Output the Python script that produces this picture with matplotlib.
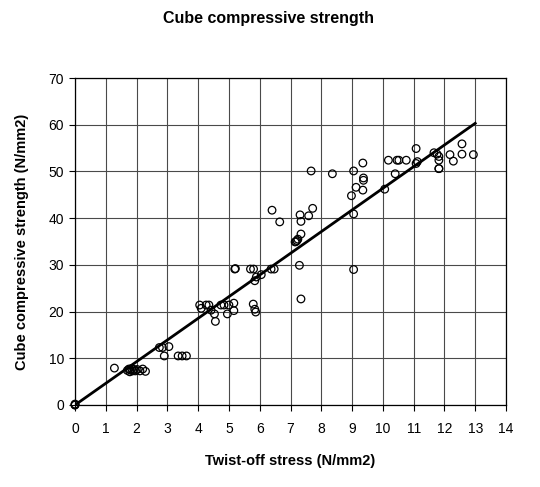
"""Cube compressive strength vs twist-off stress scatter with fitted line."""

import matplotlib

matplotlib.use("Agg")
import matplotlib.pyplot as plt

FONT = ["Liberation Sans", "DejaVu Sans"]
INK = "#000000"
GRID = "#4a4a4a"

# twist-off stress (N/mm2)
twist = [
    0.0, 0.0, 0.0,
    1.28, 1.70, 1.75, 1.78, 1.80, 1.84, 1.87, 1.92, 1.96, 2.02, 2.11, 2.20, 2.29,
    2.74, 2.84, 3.05, 2.90, 3.35, 3.48, 3.62,
    4.05, 4.10, 4.26, 4.35, 4.42, 4.53, 4.56, 4.74, 4.84, 4.95, 5.00, 5.16, 5.16,
    5.19, 5.21, 5.70, 5.80, 5.84, 5.89, 6.05, 6.37, 6.47, 5.79, 5.84, 5.87,
    6.40, 6.65, 7.15, 7.18, 7.21, 7.24, 7.34, 7.31, 7.34, 7.59, 7.72, 7.29, 7.34,
    7.67, 8.36,
    9.05, 9.35, 9.37, 9.37, 9.35, 9.13, 8.98, 9.05, 9.05,
    10.06, 10.40, 10.18, 10.46, 10.52, 10.76,
    11.08, 11.08, 11.12, 11.66, 11.76, 11.82, 11.82, 11.82, 11.82,
    12.18, 12.29, 12.57, 12.57, 12.94,
]
# cube compressive strength (N/mm2)
cube = [
    0.0, 0.2, 0.0,
    7.9, 7.4, 7.7, 7.1, 7.5, 7.8, 7.3, 7.6, 7.3, 7.6, 7.3, 7.7, 7.2,
    12.3, 12.3, 12.5, 10.5, 10.5, 10.5, 10.5,
    21.4, 20.7, 21.4, 21.4, 20.3, 19.5, 17.9, 21.4, 21.4, 19.5, 21.4, 21.8, 20.2,
    29.1, 29.2, 29.1, 29.1, 26.6, 27.4, 27.9, 29.1, 29.1, 21.6, 20.5, 19.9,
    41.7, 39.2, 34.9, 35.0, 35.2, 35.5, 36.6, 40.7, 39.3, 40.5, 42.1, 29.9, 22.7,
    50.1, 49.5,
    50.1, 51.8, 48.6, 48.1, 46.0, 46.6, 44.8, 40.9, 29.0,
    46.2, 49.5, 52.4, 52.4, 52.4, 52.4,
    54.9, 51.7, 52.1, 54.0, 53.7, 53.2, 52.4, 50.6, 50.6,
    53.6, 52.2, 55.9, 53.7, 53.6,
]

# fitted trend line end points
fit_x = [0.0, 13.0]
fit_y = [0.0, 60.3]

x_ticks = list(range(0, 15))
y_ticks = list(range(0, 71, 10))


def main() -> None:
    plt.rcParams["font.family"] = FONT
    fig = plt.figure(figsize=(5.4, 4.87), dpi=100, facecolor="white")
    ax = fig.add_axes([75 / 540, 82 / 487, 431 / 540, 327 / 487])

    ax.plot(fit_x, fit_y, color=INK, linewidth=2.0, zorder=2)
    ax.scatter(twist, cube, s=30, facecolors="none", edgecolors=INK,
               linewidths=0.9, zorder=3, clip_on=False)

    ax.set_xlim(0, 14)
    ax.set_ylim(0, 70)
    ax.set_xticks(x_ticks)
    ax.set_yticks(y_ticks)
    ax.tick_params(direction="out", length=4, width=0.8, colors=INK,
                   labelsize=10)
    ax.tick_params(axis="x", pad=8)
    ax.tick_params(axis="y", pad=4)
    ax.grid(True, color=GRID, linewidth=0.8)
    ax.set_axisbelow(True)
    for spine in ax.spines.values():
        spine.set_color(INK)
        spine.set_linewidth(0.9)

    ax.set_xlabel("Twist-off stress (N/mm2)", fontsize=10.5, fontweight="bold")
    ax.xaxis.set_label_coords(0.5, -0.15)
    ax.set_ylabel("Cube compressive strength (N/mm2)", fontsize=10.5,
                  fontweight="bold")
    ax.yaxis.set_label_coords(-0.106, 0.5)

    fig.text(0.497, 0.962, "Cube compressive strength", ha="center",
             va="center", fontsize=11.5, fontweight="bold")

    fig.savefig("out.png", dpi=100, facecolor="white")


if __name__ == "__main__":
    main()
